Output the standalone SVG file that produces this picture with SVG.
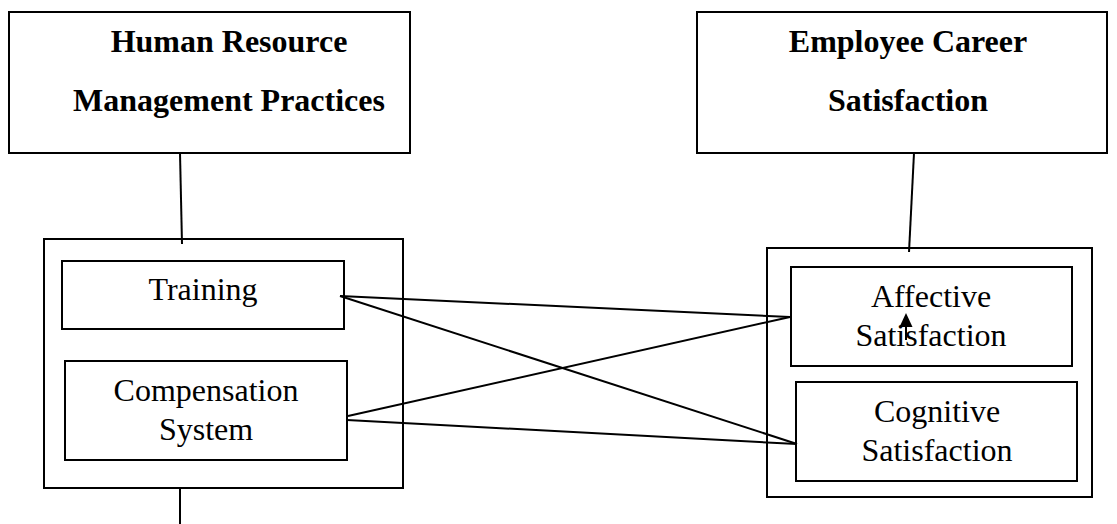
<svg xmlns="http://www.w3.org/2000/svg" width="1117" height="524" viewBox="0 0 1117 524">
<defs>
<style>
.box{fill:#fff;stroke:#000;stroke-width:2}
.ln{stroke:#000;stroke-width:2;fill:none}
.h{font-family:"Liberation Serif","Times New Roman",serif;font-weight:bold;font-size:32px;text-anchor:middle;fill:#000}
.t{font-family:"Liberation Serif","Times New Roman",serif;font-size:32px;text-anchor:middle;fill:#000}
</style>
<marker id="ah" markerWidth="14" markerHeight="14" refX="0" refY="7" orient="auto" markerUnits="userSpaceOnUse" viewBox="0 0 14 14">
<path d="M0 0.5 L14 7 L0 13.5 Z" fill="#000"/>
</marker>
</defs>
<rect width="1117" height="524" fill="#fff"/>
<g id="hrm">
<rect class="box" x="9" y="12" width="401" height="141"/>
<text class="h" x="229" y="52">Human Resource</text>
<text class="h" x="229" y="111">Management Practices</text>
</g>
<g id="ecs">
<rect class="box" x="697" y="12" width="410" height="141"/>
<text class="h" x="908" y="52">Employee Career</text>
<text class="h" x="908" y="111">Satisfaction</text>
</g>
<g id="hrm-group">
<rect class="box" x="44" y="239" width="359" height="249"/>
</g>
<g id="training">
<rect class="box" x="62" y="261" width="282" height="68"/>
<text class="t" x="203" y="300">Training</text>
</g>
<g id="compensation">
<rect class="box" x="65" y="361" width="282" height="99"/>
<text class="t" x="206" y="401">Compensation</text>
<text class="t" x="206" y="440">System</text>
</g>
<g id="ecs-group">
<rect class="box" x="767" y="248" width="325" height="249"/>
</g>
<g id="affective">
<rect class="box" x="791" y="267" width="281" height="99"/>
<text class="t" x="931" y="307">Affective</text>
<text class="t" x="931" y="346">Satisfaction</text>
</g>
<g id="cognitive">
<rect class="box" x="796" y="382" width="281" height="99"/>
<text class="t" x="937" y="422">Cognitive</text>
<text class="t" x="937" y="461">Satisfaction</text>
</g>
<g id="connectors">
<line class="ln" x1="180" y1="153" x2="182" y2="244"/>
<line class="ln" x1="180" y1="488" x2="180" y2="524"/>
<line class="ln" x1="914" y1="153" x2="909" y2="252"/>
<line class="ln" x1="340" y1="296" x2="790" y2="317"/>
<line class="ln" x1="340" y1="296" x2="797" y2="444"/>
<line class="ln" x1="348" y1="416" x2="790" y2="317"/>
<line class="ln" x1="347" y1="420" x2="797" y2="444"/>
<line class="ln" x1="906" y1="340" x2="906" y2="327" marker-end="url(#ah)"/>
</g>
</svg>
